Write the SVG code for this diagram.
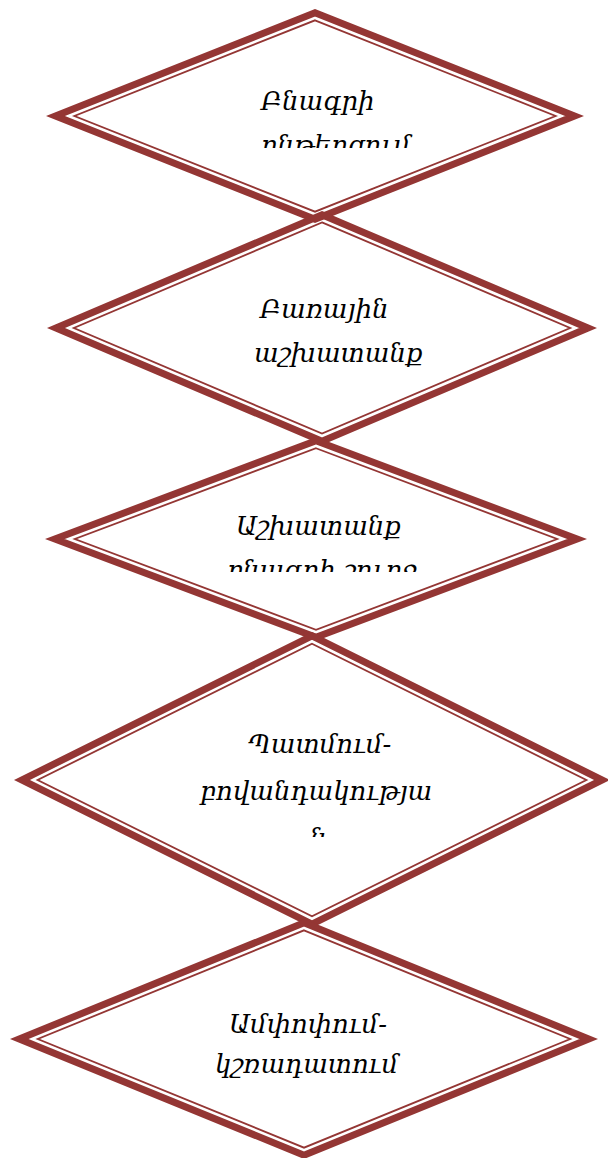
<svg xmlns="http://www.w3.org/2000/svg" width="608" height="1158" viewBox="0 0 608 1158">
  <style>
    .thick { fill: none; stroke: #943634; stroke-width: 7; stroke-linejoin: miter; stroke-miterlimit: 10; }
    .thin { fill: none; stroke: #943634; stroke-width: 1.8; stroke-linejoin: miter; stroke-miterlimit: 10; }
    .lbl { font-family: "DejaVu Serif", "Liberation Serif", serif; font-style: italic; font-size: 26px; fill: #000; }
  </style>
  <defs>
    <clipPath id="c1"><rect x="0" y="0" width="608" height="148"/></clipPath>
    <clipPath id="c3"><rect x="0" y="420" width="608" height="152"/></clipPath>
    <clipPath id="c4"><rect x="0" y="620" width="608" height="217"/></clipPath>
  </defs>
  <rect width="608" height="1158" fill="#fff"/>
  <g id="connectors"/>
  <g id="node-1">
    <polygon class="thick" points="315,12.77 574.53,116 315,219.23 55.47,116"/>
    <polygon class="thin" points="315,20.30 555.59,116 315,211.70 74.41,116"/>
    <g clip-path="url(#c1)">
      <text class="lbl" x="261" y="110">Բնագրի</text>
      <text class="lbl" x="261" y="154">ընթերցում</text>
    </g>
  </g>
  <g id="node-2">
    <polygon class="thick" points="322,214.80 588.06,328 322,441.20 55.94,328"/>
    <polygon class="thin" points="322,222.41 570.17,328 322,433.59 73.83,328"/>
    <text class="lbl" x="260" y="318">Բառային</text>
    <text class="lbl" x="254" y="362">աշխատանք</text>
  </g>
  <g id="node-3">
    <polygon class="thick" points="316,440.74 577.06,539 316,637.26 54.94,539"/>
    <polygon class="thin" points="316,448.22 557.19,539 316,629.78 74.81,539"/>
    <g clip-path="url(#c3)">
      <text class="lbl" x="236" y="535">Աշխատանք</text>
      <text class="lbl" x="227" y="579">բնագրի շուրջ</text>
    </g>
  </g>
  <g id="node-4">
    <polygon class="thick" points="312,635.91 602.13,780 312,924.09 21.87,780"/>
    <polygon class="thin" points="312,643.73 586.40,780 312,916.27 37.60,780"/>
    <g clip-path="url(#c4)">
      <text class="lbl" x="248" y="753">Պատմում-</text>
      <text class="lbl" x="200" y="800">բովանդակությա</text>
      <text class="lbl" x="310" y="847">ն</text>
    </g>
  </g>
  <g id="node-5">
    <polygon class="thick" points="304,922.78 588.74,1039 304,1155.22 19.26,1039"/>
    <polygon class="thin" points="304,930.34 570.22,1039 304,1147.66 37.78,1039"/>
    <text class="lbl" x="229" y="1033">Ամփոփում-</text>
    <text class="lbl" x="215" y="1073">կշռադատում</text>
  </g>
</svg>
